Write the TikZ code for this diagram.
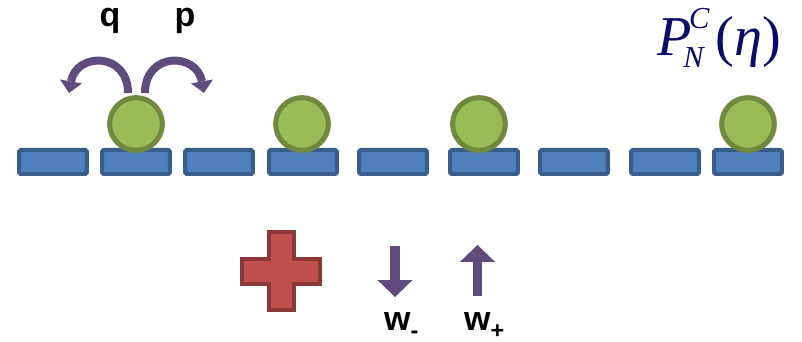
\documentclass[tikz,border=0pt]{standalone}
\usepackage{fontspec}
\usetikzlibrary{arrows.meta,positioning}

\newfontfamily\labelfont{Liberation Sans}
\newfontfamily\eqfont{Liberation Serif}
\newcommand{\eqsmall}{\fontsize{26}{26}\selectfont}
\newcommand{\subsmall}{\fontsize{20}{20}\selectfont}

\definecolor{cellfill}{HTML}{4F81BD}
\definecolor{celldraw}{HTML}{385D8A}
\definecolor{ballfill}{HTML}{9BBB59}
\definecolor{balldraw}{HTML}{71893F}
\definecolor{hopcol}{HTML}{5F4B7D}
\definecolor{crossfill}{HTML}{C0504D}
\definecolor{crossdraw}{HTML}{8C3836}
\definecolor{eqcol}{HTML}{0A0A6A}

\tikzset{
  cell/.style={rectangle, draw=celldraw, fill=cellfill, line width=3.4pt,
    minimum width=58pt, minimum height=20.5pt, rounded corners=1.5pt, inner sep=0pt},
  ball/.style={circle, draw=balldraw, fill=ballfill, line width=4.3pt,
    minimum size=45pt, inner sep=0pt},
  hop/.style={hopcol, line width=6.8pt, -{Triangle[width=19pt,length=10pt,line width=0pt]}},
  rate/.style={hopcol, line width=8.5pt, -{Triangle[width=30pt,length=14.5pt,line width=0pt]}},
  lbl/.style={font=\labelfont\bfseries\fontsize{29}{29}\selectfont, inner sep=0pt},
  eq/.style={font=\eqfont\itshape\fontsize{48}{48}\selectfont, text=eqcol, inner sep=0pt},
}

\begin{document}
\begin{tikzpicture}[x=0.03cm, y=0.03cm]
    \useasboundingbox (0,0) rectangle (802,-342);

    % lattice sites and particles
    \foreach \x [count=\i] in {53,136,219,303,393,484,574,665,748}
        \node[cell] (s\i) at (\x,-162) {};
    \foreach \i/\x in {2/136,4/302,6/479,9/748}
        \node[ball] (b\i) at (\x,-124) {};

    % jumps left (q) and right (p)
    \coordinate (qfrom) at (128,-93);
    \coordinate (qto) at (69,-93);
    \coordinate (pfrom) at (145,-93);
    \coordinate (pto) at (204,-93);
    \draw[hop] (qfrom) to[out=90, in=80, looseness=1.8] (qto);
    \draw[hop] (pfrom) to[out=90, in=100, looseness=1.8] (pto);
    \node[lbl, anchor=base] (q) at (110,-27) {q};
    \node[lbl, anchor=base] (p) at (185,-27) {p};

    \node[eq, anchor=base west] (eq) at (657,-56)
        {P\kern-7pt\rlap{\kern5pt\raisebox{23.5pt}{\eqsmall C}}\raisebox{-10pt}{\eqsmall N}\kern10pt{\upshape(}η{\upshape)}};

    % creation / annihilation
    \draw[crossdraw, fill=crossfill, line width=3.4pt]
        (269,-232) -- (294,-232) -- (294,-259) -- (320,-259) -- (320,-284)
        -- (294,-284) -- (294,-310) -- (269,-310) -- (269,-284) -- (242,-284)
        -- (242,-259) -- (269,-259) -- cycle;

    \coordinate (dtop) at (395,-246);
    \coordinate (dtip) at (395,-297);
    \coordinate (ubot) at (477.5,-296);
    \coordinate (utip) at (477.5,-245);
    \draw[rate] (dtop) -- (dtip);
    \draw[rate] (ubot) -- (utip);

    \node[lbl, anchor=base west] (wm) at (384,-330) {w\raisebox{-7pt}{\subsmall -}};
    \node[lbl, anchor=base west] (wp) at (464,-330) {w\raisebox{-7pt}{\subsmall +}};
\end{tikzpicture}
\end{document}
